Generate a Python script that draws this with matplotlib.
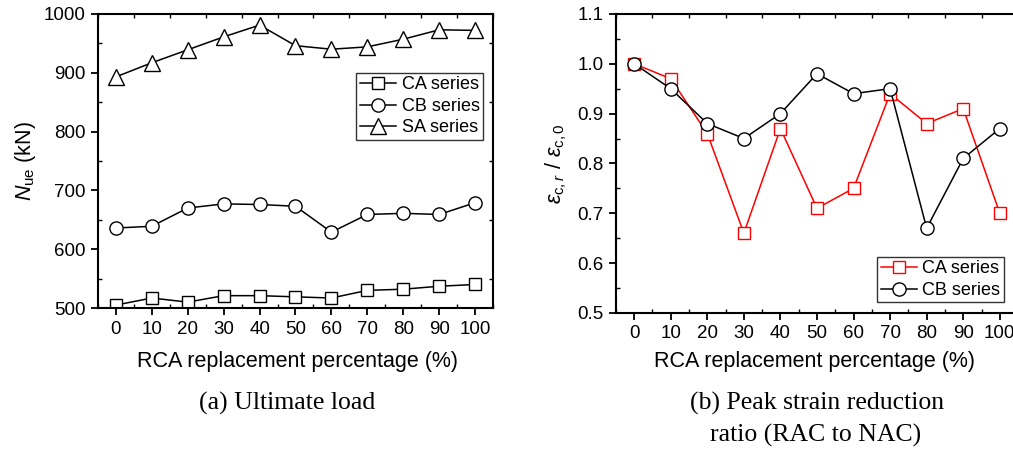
import matplotlib
matplotlib.use("Agg")
import matplotlib.pyplot as plt
from matplotlib.ticker import MultipleLocator

plt.rcParams["font.family"] = ["Liberation Sans", "DejaVu Sans"]
plt.rcParams["mathtext.fontset"] = "custom"
plt.rcParams["mathtext.rm"] = "Liberation Sans"
plt.rcParams["mathtext.it"] = "Liberation Sans:italic"

# RCA replacement percentage
rca = [0, 10, 20, 30, 40, 50, 60, 70, 80, 90, 100]

# (a) ultimate load, kN
load_ca = [505, 517, 510, 521, 521, 519, 517, 530, 532, 537, 540]
load_cb = [636, 639, 670, 677, 676, 673, 629, 659, 661, 659, 679]
load_sa = [893, 917, 939, 961, 981, 946, 940, 944, 957, 973, 972]

# (b) peak strain reduction ratio
ratio_ca = [1.00, 0.97, 0.86, 0.66, 0.87, 0.71, 0.75, 0.94, 0.88, 0.91, 0.70]
ratio_cb = [1.00, 0.95, 0.88, 0.85, 0.90, 0.98, 0.94, 0.95, 0.67, 0.81, 0.87]

fig = plt.figure(figsize=(10.13, 4.49), dpi=100)
ax1 = fig.add_axes([0.0967, 0.314, 0.390, 0.655])
ax2 = fig.add_axes([0.608, 0.303, 0.397, 0.666])


def style_axis(ax):
    for s in ax.spines.values():
        s.set_linewidth(1.5)
    ax.tick_params(which="major", direction="out", length=5, width=1.3,
                   labelsize=13.5, top=False, right=False, pad=4)
    ax.tick_params(which="minor", direction="in", length=3, width=1.0,
                   top=True, right=True)
    ax.set_xlim(-5, 105)
    ax.set_xticks(rca)
    ax.xaxis.set_minor_locator(MultipleLocator(5))


kw = dict(color="black", lw=1.1, mfc="white", mew=1.0)
ax1.plot(rca, load_ca, marker="s", ms=8, label="CA series", **kw)
ax1.plot(rca, load_cb, marker="o", ms=9.5, label="CB series", **kw)
ax1.plot(rca, load_sa, marker="^", ms=11, label="SA series", **kw)
style_axis(ax1)
ax1.set_ylim(500, 1000)
ax1.yaxis.set_major_locator(MultipleLocator(100))
ax1.yaxis.set_minor_locator(MultipleLocator(50))
ax1.set_ylabel(r"$N_{\mathrm{ue}}$ (kN)", fontsize=15.5, labelpad=4)
leg1 = ax1.legend(loc="upper right", bbox_to_anchor=(0.975, 0.8), fontsize=13,
                  frameon=True, fancybox=False, edgecolor="black",
                  handlelength=2.0, handletextpad=0.3, borderpad=0.2,
                  labelspacing=0.25, borderaxespad=0)
leg1.get_frame().set_linewidth(1.0)

ax2.plot(rca, ratio_ca, color="red", lw=1.1, marker="s", ms=9, mfc="white",
         mec="red", mew=1.0, label="CA series")
ax2.plot(rca, ratio_cb, color="black", lw=1.1, marker="o", ms=9.5, mfc="white",
         mec="black", mew=1.0, label="CB series")
style_axis(ax2)
ax2.set_ylim(0.5, 1.1)
ax2.yaxis.set_major_locator(MultipleLocator(0.1))
ax2.yaxis.set_minor_locator(MultipleLocator(0.05))
ax2.yaxis.set_major_formatter(plt.FormatStrFormatter("%.1f"))
ax2.set_ylabel(r"$\varepsilon_{\mathrm{c},r}$ / $\varepsilon_{\mathrm{c},0}$",
               fontsize=15.5, labelpad=6)
leg2 = ax2.legend(loc="lower right", bbox_to_anchor=(0.965, 0.035), fontsize=13,
                  frameon=True, fancybox=False, edgecolor="black",
                  handlelength=2.0, handletextpad=0.3, borderpad=0.2,
                  labelspacing=0.25, borderaxespad=0)
leg2.get_frame().set_linewidth(1.0)

# axis titles and captions placed under each panel
fig.text(297.5 / 1013, 1 - 362 / 449, "RCA replacement percentage (%)",
         ha="center", va="center", fontsize=15.5)
fig.text(814 / 1013, 1 - 362 / 449, "RCA replacement percentage (%)",
         ha="center", va="center", fontsize=15.5)

serif = ["Liberation Serif", "DejaVu Serif"]
fig.text(287.5 / 1013, 1 - 403 / 449, "(a) Ultimate load", ha="center",
         va="center", fontsize=18.5, family=serif)
fig.text(817 / 1013, 1 - 403 / 449, "(b) Peak strain reduction", ha="center",
         va="center", fontsize=18.5, family=serif)
fig.text(816 / 1013, 1 - 435 / 449, "ratio (RAC to NAC)", ha="center",
         va="center", fontsize=18.5, family=serif)

fig.savefig("out.png", dpi=100, facecolor="white")
